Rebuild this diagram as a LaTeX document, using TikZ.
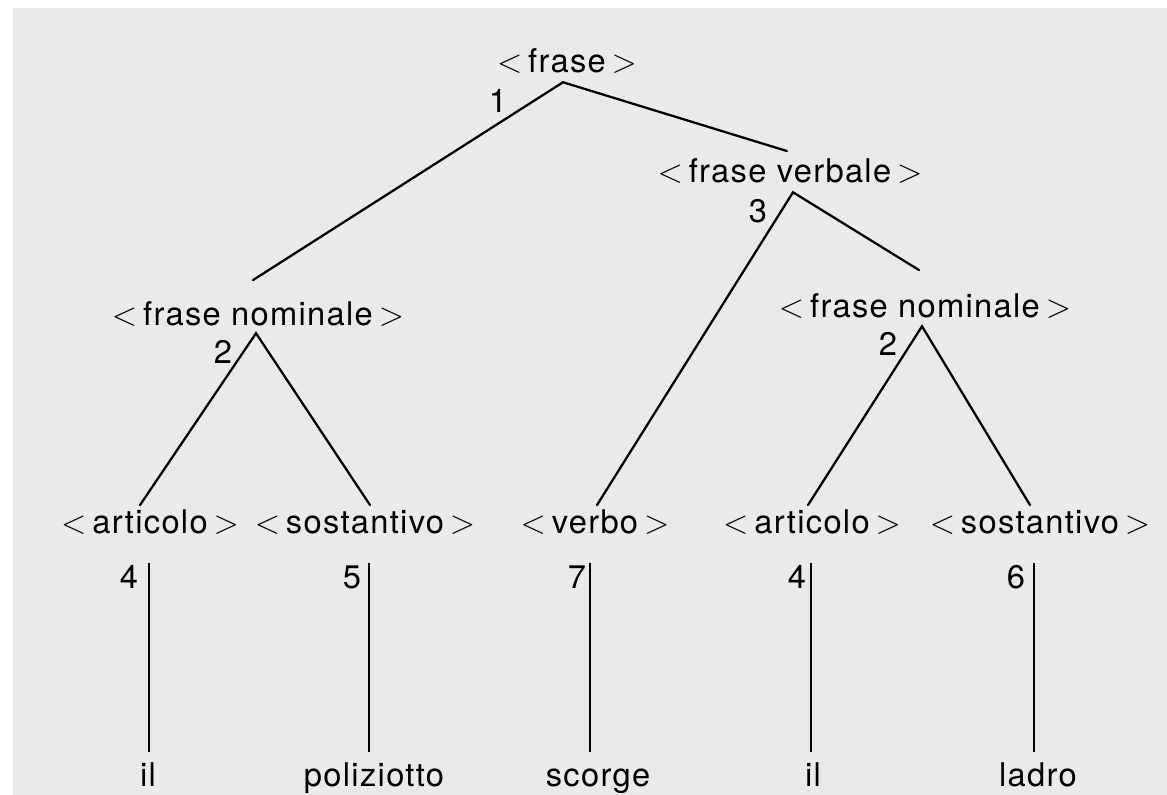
\documentclass[tikz,border=0pt]{standalone}
\usepackage{fontspec}
\setmainfont{TeX Gyre Heros}[LetterSpace=4.0]
\definecolor{paper}{RGB}{234,234,234}
\newcommand\lsym{$<$\hspace{0.18em}}
\newcommand\rsym{\hspace{0.18em}$>$}
\begin{document}
\begin{tikzpicture}[x=0.75pt,y=-0.75pt,
  lab/.style={inner sep=0pt, anchor=base, text height=17pt, text depth=0pt, font=\fontsize{24.5}{28}\selectfont},
  num/.style={inner sep=0pt, anchor=base, font=\fontsize{24.5}{28}\selectfont},
  edge/.style={line width=1.7pt, line cap=round, line join=miter},
  bar/.style={line width=1.7pt, line cap=butt}]
\useasboundingbox (0,0) rectangle (1167,795);
\fill[white] (0,0) rectangle (1167,795);
\fill[paper] (13,8) rectangle (1167,795);
% phrase nodes
\node[lab] (f)   at (567,73)  {\lsym frase\rsym};
\node[lab] (fv)  at (790,183) {\lsym frase verbale\rsym};
\node[lab] (fn1) at (258,325) {\lsym frase nominale\rsym};
\node[lab] (fn2) at (925,317) {\lsym frase nominale\rsym};
\node[lab] (art1) at (150,533) {\lsym articolo\rsym};
\node[lab] (sos1) at (365,533) {\lsym sostantivo\rsym};
\node[lab] (verb) at (595,533) {\lsym verbo\rsym};
\node[lab] (art2) at (812,533) {\lsym articolo\rsym};
\node[lab] (sos2) at (1040,533) {\lsym sostantivo\rsym};
% leaves
\node[lab] (il1) at (148,786) {il};
\node[lab] (pol) at (374,786) {poliziotto};
\node[lab] (sco) at (598,786) {scorge};
\node[lab] (il2) at (813,786) {il};
\node[lab] (lad) at (1038,786) {ladro};
% rule numbers
\node[num] (r1)  at (498,113) {1};
\node[num] (r2a) at (223,363) {2};
\node[num] (r3)  at (758,222) {3};
\node[num] (r2b) at (888,355) {2};
\node[num] (n4a) at (129,588) {4};
\node[num] (n5)  at (352,588) {5};
\node[num] (n7)  at (577,588) {7};
\node[num] (n4b) at (797,588) {4};
\node[num] (n6)  at (1016,588) {6};
% tree edges
\draw[edge] ([shift={(-3,-9)}]fv.north) -- ([shift={(-4,9)}]f.south) -- ([shift={(-5,-22)}]fn1.north);
\draw[edge] ([shift={(2,-5)}]verb.north) -- ([shift={(3,9)}]fv.south) -- ([shift={(-6,-24)}]fn2.north);
\draw[edge] ([shift={(-10,-5)}]art1.north) -- ([shift={(-2,8)}]fn1.south) -- ([shift={(5,-5)}]sos1.north);
\draw[edge] ([shift={(-4,-5)}]art2.north) -- ([shift={(-3,9)}]fn2.south) -- ([shift={(-10,-5)}]sos2.north);
% vertical bars from categories to words
\draw[bar] ([shift={(-1,30)}]art1.base) -- ++(0,189);
\draw[bar] ([shift={(4,30)}]sos1.base) -- ++(0,189);
\draw[bar] ([shift={(-5,30)}]verb.base) -- ++(0,189);
\draw[bar] ([shift={(-1,30)}]art2.base) -- ++(0,189);
\draw[bar] ([shift={(-6,30)}]sos2.base) -- ++(0,189);
\end{tikzpicture}
\end{document}
